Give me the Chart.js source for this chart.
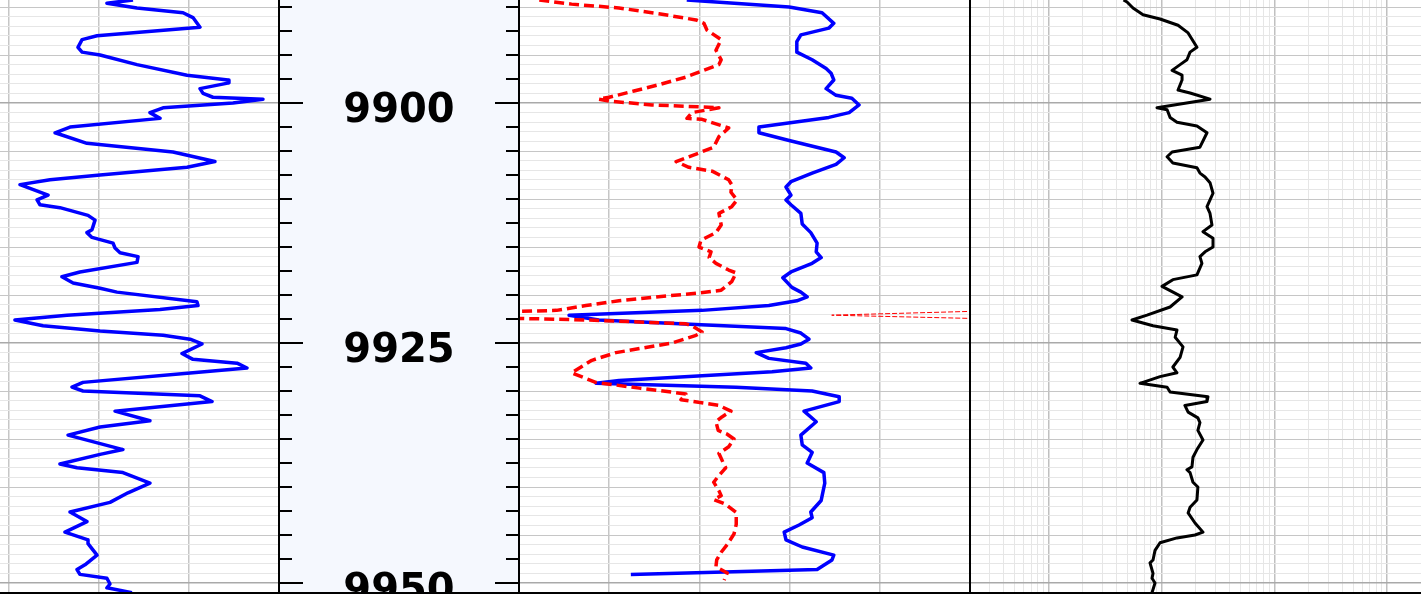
<!DOCTYPE html>
<html><head><meta charset="utf-8">
<script src="https://cdn.jsdelivr.net/npm/chart.js@4.4.0/dist/chart.umd.min.js"></script>
<style>
html,body{margin:0;padding:0;background:#fff;}
#wrap{position:relative;width:1421px;height:598px;overflow:hidden;background:#fff;}
canvas{position:absolute;top:0;}
.vb{position:absolute;top:0;width:2px;height:594px;background:#000;}
.hb{position:absolute;left:0;top:592px;width:1421px;height:2px;background:#000;}
</style></head>
<body><div id="wrap">
<canvas id="t1" width="360" height="593" style="left:-81px"></canvas>
<canvas id="td" width="240" height="593" style="left:279px;background:#f5f8fe"></canvas>
<canvas id="t3" width="451" height="593" style="left:519px"></canvas>
<canvas id="t4" width="451" height="593" style="left:970px"></canvas>
<div class="vb" style="left:278px"></div>
<div class="vb" style="left:518px"></div>
<div class="vb" style="left:969px"></div>
<div class="hb"></div>
</div>
<script>
// ---- depth window and tick labels ----
const DEPTH_TOP = 9889.27, DEPTH_BASE = 9951.04;
const depthLabels = [9900, 9925, 9950];
const depthTickStep = 2.5;
const grGridValues = [0, 50, 100, 150, 200];
const rhobGridValues = [1.95, 2.15, 2.35, 2.55, 2.75, 2.95];
const resDecades = [0.1, 1, 10, 100, 1000];

// ---- curves: [depth, value] ----
const grLog = [[9889.27,118.9],[9889.6,104.4],[9890.1,121.1],[9890.6,146.7],[9891.1,152.2],[9892.1,156.1],[9893.0,98.9],[9893.4,90.6],[9894.2,88.3],[9894.7,90.6],[9895.0,100.6],[9896.0,121.1],[9897.1,148.9],[9897.6,171.7],[9897.9,172.2],[9898.5,156.1],[9899.0,157.8],[9899.4,163.3],[9899.6,191.1],[9900.0,174.4],[9900.5,135.6],[9901.0,128.3],[9901.6,133.9],[9902.5,83.9],[9903.1,75.6],[9904.2,93.3],[9905.1,141.1],[9906.1,164.4],[9906.7,148.9],[9907.5,100.6],[9908.0,72.8],[9908.5,56.1],[9909.6,71.7],[9910.1,65.6],[9910.6,67.2],[9910.9,78.3],[9911.7,93.9],[9912.2,97.8],[9913.2,96.1],[9913.5,93.3],[9914.0,96.1],[9914.6,107.8],[9915.1,108.9],[9915.6,111.7],[9916.0,121.7],[9916.6,121.1],[9917.6,89.4],[9918.1,79.4],[9918.75,85.6],[9919.3,100.6],[9919.7,110.0],[9920.7,154.4],[9921.1,155.0],[9921.5,133.9],[9922.1,82.2],[9922.6,53.3],[9923.2,68.9],[9923.75,100.6],[9924.2,135.6],[9924.6,150.6],[9925.1,157.2],[9926.1,146.1],[9926.7,152.2],[9927.1,176.7],[9927.6,182.2],[9928.1,152.2],[9929.1,91.1],[9929.6,85.0],[9930.0,91.1],[9930.5,156.1],[9931.1,162.8],[9932.1,108.9],[9933.1,128.3],[9933.75,100.6],[9934.6,82.8],[9936.1,113.3],[9936.6,100.6],[9937.6,78.3],[9938.0,87.8],[9938.5,113.3],[9939.6,128.3],[9940.6,116.1],[9941.6,106.1],[9942.6,83.9],[9943.6,93.3],[9944.7,81.1],[9945.5,93.9],[9945.9,93.9],[9947.1,98.9],[9948.1,92.2],[9948.6,87.8],[9949.1,89.4],[9949.5,104.4],[9950.1,106.1],[9950.5,104.4],[9951.0,118.3]];

const rhobLog = [[9889.27,2.322],[9890.0,2.549],[9890.6,2.622],[9891.7,2.648],[9892.2,2.637],[9892.9,2.575],[9893.6,2.566],[9894.7,2.566],[9895.5,2.600],[9896.4,2.631],[9896.9,2.642],[9897.6,2.648],[9898.5,2.631],[9899.2,2.653],[9899.5,2.688],[9900.2,2.704],[9901.0,2.682],[9901.5,2.637],[9902.5,2.482],[9903.1,2.482],[9903.9,2.549],[9905.1,2.653],[9905.7,2.671],[9906.4,2.653],[9907.3,2.600],[9908.2,2.553],[9908.75,2.542],[9909.6,2.553],[9910.1,2.542],[9910.6,2.553],[9911.5,2.575],[9912.6,2.578],[9913.5,2.597],[9914.6,2.611],[9915.5,2.609],[9916.1,2.620],[9916.7,2.600],[9917.6,2.553],[9918.2,2.535],[9919.2,2.555],[9919.7,2.575],[9920.2,2.589],[9920.6,2.566],[9921.1,2.504],[9921.6,2.356],[9922.1,2.061],[9922.6,2.127],[9923.1,2.354],[9923.5,2.542],[9923.96,2.575],[9924.6,2.593],[9925.1,2.575],[9925.5,2.542],[9926.0,2.476],[9926.6,2.504],[9927.1,2.586],[9927.6,2.597],[9928.0,2.511],[9928.9,2.172],[9929.2,2.121],[9929.6,2.431],[9930.0,2.600],[9930.6,2.660],[9931.1,2.660],[9932.1,2.582],[9933.2,2.609],[9934.6,2.575],[9935.6,2.578],[9936.4,2.600],[9937.5,2.589],[9938.5,2.626],[9939.6,2.628],[9941.4,2.620],[9942.6,2.597],[9943.2,2.600],[9943.96,2.571],[9944.7,2.538],[9945.5,2.542],[9946.25,2.578],[9947.1,2.648],[9947.6,2.644],[9948.6,2.611],[9949.1,2.198]];

const nphiLog = [[9889.27,0.423],[9889.7,0.380],[9890.1,0.317],[9890.7,0.264],[9891.35,0.2145],[9891.7,0.204],[9892.4,0.200],[9893.4,0.181],[9894.5,0.188],[9895.5,0.181],[9896.0,0.184],[9897.3,0.228],[9898.1,0.264],[9898.75,0.297],[9899.4,0.330],[9899.6,0.344],[9899.8,0.330],[9900.2,0.273],[9900.4,0.2105],[9900.5,0.184],[9901.0,0.220],[9901.6,0.2265],[9901.7,0.2065],[9902.6,0.171],[9903.5,0.184],[9904.6,0.191],[9905.2,0.2105],[9906.1,0.241],[9906.7,0.224],[9907.1,0.193],[9908.0,0.171],[9908.5,0.167],[9909.3,0.168],[9910.1,0.160],[9910.8,0.167],[9911.5,0.184],[9912.7,0.181],[9913.5,0.188],[9914.3,0.208],[9915.0,0.2105],[9915.5,0.1945],[9916.1,0.197],[9916.7,0.188],[9917.4,0.171],[9917.7,0.161],[9918.6,0.167],[9919.5,0.181],[9919.8,0.2105],[9920.1,0.254],[9920.6,0.317],[9921.1,0.361],[9921.6,0.400],[9922.1,0.634],[9922.6,0.360],[9923.0,0.228],[9923.2,0.220],[9923.85,0.2065],[9924.2,0.2145],[9925.0,0.2465],[9926.0,0.321],[9926.8,0.353],[9928.1,0.380],[9929.1,0.348],[9929.7,0.290],[9930.3,0.228],[9930.9,0.2345],[9931.3,0.201],[9931.5,0.184],[9932.1,0.168],[9932.7,0.180],[9933.2,0.188],[9934.1,0.185],[9934.5,0.173],[9935.0,0.164],[9935.8,0.171],[9936.5,0.184],[9937.7,0.177],[9938.0,0.175],[9938.8,0.184],[9939.5,0.191],[9940.4,0.184],[9940.9,0.181],[9941.3,0.191],[9941.8,0.175],[9942.65,0.161],[9943.9,0.161],[9944.9,0.164],[9946.0,0.173],[9946.8,0.181],[9947.6,0.187],[9948.3,0.188],[9948.95,0.173],[9949.7,0.177]];

const resLog = [[9889.27,4.6],[9889.48,4.94],[9890.1,5.58],[9890.8,6.85],[9891.25,9.69],[9891.9,14.0],[9892.7,17.2],[9894.2,20.6],[9894.7,17.9],[9895.5,16.8],[9896.0,14.6],[9896.6,12.4],[9897.1,15.2],[9897.6,15.2],[9898.65,14.0],[9898.96,17.9],[9899.6,26.9],[9900.5,9.11],[9900.7,11.2],[9901.5,11.9],[9902.0,13.7],[9902.4,20.6],[9903.1,25.3],[9904.6,21.9],[9905.1,12.4],[9905.6,11.2],[9906.25,12.6],[9906.75,20.6],[9907.3,21.9],[9907.7,24.3],[9908.3,26.9],[9909.4,28.6],[9910.1,26.9],[9910.8,25.3],[9911.5,26.9],[9912.7,28.0],[9913.4,23.3],[9913.75,25.8],[9914.1,28.6],[9915.0,28.6],[9915.5,24.3],[9916.0,21.9],[9916.7,22.8],[9917.9,20.6],[9918.4,12.6],[9919.1,10.1],[9920.2,15.2],[9921.25,11.9],[9922.1,7.43],[9922.6,5.47],[9923.2,8.40],[9923.65,13.7],[9924.4,13.2],[9925.4,15.5],[9926.5,14.6],[9927.5,12.6],[9928.1,13.7],[9928.5,9.69],[9929.2,6.44],[9929.6,11.2],[9930.1,11.9],[9930.6,25.8],[9931.1,25.3],[9931.5,16.1],[9932.2,17.2],[9932.8,21.0],[9933.3,21.9],[9934.1,21.0],[9935.1,23.3],[9936.1,20.6],[9936.9,19.0],[9937.9,18.6],[9938.2,16.8],[9938.5,17.9],[9939.5,19.0],[9940.0,21.0],[9941.35,20.6],[9942.1,17.9],[9942.7,17.2],[9943.75,19.8],[9944.7,23.3],[9945.0,19.8],[9945.3,13.7],[9945.8,9.69],[9946.6,8.75],[9947.6,8.40],[9947.9,7.90],[9949.0,8.40],[9949.5,8.23],[9950.0,8.75],[9951.0,8.23]];

// ---- helpers ----
const depthGrid = [];
for (let d = Math.ceil(DEPTH_TOP); d <= Math.floor(DEPTH_BASE); d++) depthGrid.push(d);
const depthTicks = [];
for (let d = Math.ceil(DEPTH_TOP / depthTickStep) * depthTickStep; d <= DEPTH_BASE; d += depthTickStep) depthTicks.push(d);
const resGrid = [];
resDecades.forEach(dec => { for (let m = 1; m <= 9; m++) { const v = +(m * dec).toPrecision(3); if (v >= 0.2 && v <= 2000) resGrid.push(v); } });
resGrid.push(2000);

const toXY = arr => arr.map(p => ({ x: p[1], y: p[0] }));

function yScale(showGrid) {
  return {
    type: 'linear', reverse: true, min: DEPTH_TOP, max: DEPTH_BASE,
    ticks: { display: false }, border: { display: false },
    afterBuildTicks: s => { s.ticks = depthGrid.map(v => ({ value: v })); },
    grid: {
      display: showGrid, drawTicks: false,
      color: c => { const v = c.tick ? c.tick.value : 1; return v % 25 === 0 ? '#a9a9a9' : (v % 5 === 0 ? '#c6c6c6' : '#e6e6e6'); },
      lineWidth: c => { const v = c.tick ? c.tick.value : 1; return v % 25 === 0 ? 1.5 : 1; }
    }
  };
}
function baseOptions(scales, plugins) {
  return {
    responsive: false, animation: false, events: [],
    layout: { padding: 0 },
    plugins: Object.assign({ legend: { display: false }, tooltip: { enabled: false } }, plugins || {}),
    scales
  };
}
function lineDs(data, color, width, axis, dash) {
  return { data, showLine: true, borderColor: color, backgroundColor: color, borderWidth: width,
    pointRadius: 0, pointHoverRadius: 0, tension: 0, fill: false, clip: 0,
    xAxisID: axis, borderDash: dash || [], borderCapStyle: 'butt', borderJoinStyle: 'round' };
}

// ---- track 1 : gamma ray ----
new Chart(document.getElementById('t1'), {
  type: 'scatter',
  data: { datasets: [lineDs(toXY(grLog), '#0000ff', 3.5, 'x')] },
  options: baseOptions({
    x: { type: 'linear', min: 0, max: 200, ticks: { display: false }, border: { display: false },
      afterBuildTicks: s => { s.ticks = grGridValues.map(v => ({ value: v })); },
      grid: { drawTicks: false, color: '#c6c6c6', lineWidth: 1.5 } },
    y: yScale(true)
  })
});

// ---- depth track ----
const depthTrackPlugin = {
  id: 'depthTrack',
  afterDraw(chart) {
    const { ctx, chartArea: a } = chart;
    const y = chart.scales.y;
    ctx.save();
    ctx.strokeStyle = '#000'; ctx.lineWidth = 2;
    depthTicks.forEach(d => {
      const py = Math.round(y.getPixelForValue(d));
      const len = depthLabels.includes(d) ? 24 : 13;
      ctx.beginPath();
      ctx.moveTo(a.left, py); ctx.lineTo(a.left + len, py);
      ctx.moveTo(a.right - len, py); ctx.lineTo(a.right, py);
      ctx.stroke();
    });
    ctx.fillStyle = '#000';
    ctx.font = "bold 40px 'DejaVu Sans'";
    ctx.textAlign = 'center'; ctx.textBaseline = 'alphabetic';
    depthLabels.forEach(d => ctx.fillText(String(d), (a.left + a.right) / 2, y.getPixelForValue(d) + 19));
    ctx.restore();
  }
};
new Chart(document.getElementById('td'), {
  type: 'scatter',
  data: { datasets: [] },
  options: baseOptions({
    x: { type: 'linear', min: 0, max: 1, display: false },
    y: yScale(false)
  }),
  plugins: [depthTrackPlugin]
});

// ---- track 3 : neutron / density ----
new Chart(document.getElementById('t3'), {
  type: 'scatter',
  data: { datasets: [
    lineDs(toXY(nphiLog), '#ff0000', 3.5, 'xn', [10, 5]),
    lineDs(toXY(nphiLog), '#ff0000', 1, 'xb', [5, 2]),
    lineDs(toXY(rhobLog), '#0000ff', 3.5, 'x')
  ] },
  options: baseOptions({
    x: { type: 'linear', min: 1.95, max: 2.95, ticks: { display: false }, border: { display: false },
      afterBuildTicks: s => { s.ticks = rhobGridValues.map(v => ({ value: v })); },
      grid: { drawTicks: false, color: '#c6c6c6', lineWidth: 1.5 } },
    xn: { type: 'linear', min: -0.15, max: 0.45, reverse: true, display: false },
    xb: { type: 'linear', min: 0.45, max: 1.05, reverse: true, display: false },
    y: yScale(true)
  })
});

// ---- track 4 : resistivity (log) ----
new Chart(document.getElementById('t4'), {
  type: 'scatter',
  data: { datasets: [lineDs(toXY(resLog), '#000000', 3, 'x')] },
  options: baseOptions({
    x: { type: 'logarithmic', min: 0.2, max: 2000, ticks: { display: false }, border: { display: false },
      afterBuildTicks: s => { s.ticks = resGrid.map(v => ({ value: v })); },
      grid: { drawTicks: false,
        color: c => { const v = c.tick ? c.tick.value : 2; return resDecades.includes(v) ? '#c0c0c0' : '#e6e6e6'; },
        lineWidth: c => { const v = c.tick ? c.tick.value : 2; return resDecades.includes(v) ? 1.5 : 1; } } },
    y: yScale(true)
  })
});
</script>
</body></html>
